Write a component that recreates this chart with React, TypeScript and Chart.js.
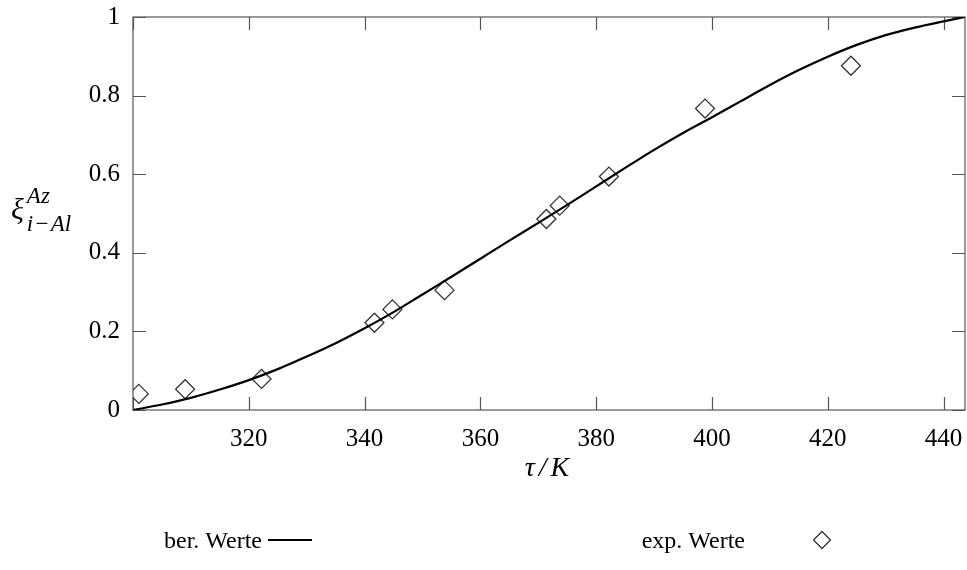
import React, { useEffect, useRef } from "react";
import { Chart, registerables } from "chart.js";

Chart.register(...registerables);

// calculated curve (ber. Werte)
const curveX = [300, 305, 310, 315, 320, 325, 330, 335, 340, 345, 350, 355, 360, 365, 370, 375, 380, 385, 390, 395, 400, 405, 410, 415, 420, 425, 430, 435, 440, 443.7];
const curveY = [0, 0.014, 0.031, 0.052, 0.076, 0.104, 0.136, 0.170, 0.208, 0.249, 0.294, 0.339, 0.385, 0.431, 0.476, 0.522, 0.569, 0.616, 0.662, 0.705, 0.745, 0.786, 0.827, 0.865, 0.899, 0.929, 0.954, 0.973, 0.989, 1.0];

// experimental values (exp. Werte)
const expX = [301.0, 309.0, 322.2, 341.7, 344.8, 353.8, 371.4, 373.7, 382.2, 398.8, 424.0];
const expY = [0.041, 0.053, 0.079, 0.222, 0.256, 0.305, 0.486, 0.52, 0.594, 0.767, 0.876];

const xTickValues = [300, 320, 340, 360, 380, 400, 420, 440];
const xTickLabels = ["", "320", "340", "360", "380", "400", "420", "440"];
const yTickValues = [0, 0.2, 0.4, 0.6, 0.8, 1];
const yTickLabels = ["0", "0.2", "0.4", "0.6", "0.8", "1"];

const X_MIN = 300;
const X_MAX = 443.7;
const Y_MIN = 0;
const Y_MAX = 1;

const legendLabels = ["ber. Werte", "exp. Werte"];
const xTitleParts = ["τ", "/", "K"];
const yTitleMain = "ξ";
const yTitleSup = "Az";
const yTitleSubParts = ["i", "−", "Al"];

const SERIF = '"Liberation Serif", "DejaVu Serif", serif';

const framePlugin = {
  id: "frameTicks",
  beforeDatasetsDraw(chart: any) {
    const { ctx, chartArea } = chart;
    const xs = chart.scales.x;
    const ys = chart.scales.y;
    const { left, right, top, bottom } = chartArea;
    ctx.save();
    ctx.strokeStyle = "#555";
    ctx.lineWidth = 1.2;
    ctx.strokeRect(left, top, right - left, bottom - top);
    const tl = 13;
    ctx.beginPath();
    xTickValues.forEach((v) => {
      const px = Math.round(xs.getPixelForValue(v)) + 0.5;
      ctx.moveTo(px, bottom);
      ctx.lineTo(px, bottom - tl);
      ctx.moveTo(px, top);
      ctx.lineTo(px, top + tl);
    });
    yTickValues.forEach((v) => {
      const py = Math.round(ys.getPixelForValue(v)) + 0.5;
      ctx.moveTo(left, py);
      ctx.lineTo(left + tl, py);
      ctx.moveTo(right, py);
      ctx.lineTo(right - tl, py);
    });
    ctx.stroke();
    // x tick labels
    ctx.fillStyle = "#000";
    ctx.font = `25px ${SERIF}`;
    ctx.textAlign = "center";
    ctx.textBaseline = "alphabetic";
    xTickValues.forEach((v, i) => {
      if (!xTickLabels[i]) return;
      ctx.fillText(xTickLabels[i], xs.getPixelForValue(v), bottom + 36);
    });
    ctx.restore();
  },
  afterDraw(chart: any) {
    const { ctx, chartArea } = chart;
    ctx.save();
    ctx.fillStyle = "#000";
    ctx.textBaseline = "alphabetic";
    ctx.textAlign = "left";
    // x title  (τ / K)
    ctx.font = `italic 28px ${SERIF}`;
    const cxT = (chartArea.left + chartArea.right) / 2 - 2;
    const wT = ctx.measureText(xTitleParts[0]).width;
    const wS = ctx.measureText(xTitleParts[1]).width;
    const wK = ctx.measureText(xTitleParts[2]).width;
    const gap = 4;
    const total = wT + wS + wK + 2 * gap;
    let xx = cxT - total / 2;
    ctx.fillText(xTitleParts[0], xx, 476);
    xx += wT + gap;
    ctx.fillText(xTitleParts[1], xx, 476);
    xx += wS + gap;
    ctx.fillText(xTitleParts[2], xx, 476);
    // y title
    ctx.font = `italic 30px ${SERIF}`;
    const x0 = 11;
    ctx.fillText(yTitleMain, x0, 219);
    const w = ctx.measureText(yTitleMain).width;
    ctx.font = `italic 23px ${SERIF}`;
    const sx = x0 + w + 3;
    ctx.fillText(yTitleSup, sx, 203);
    let sxx = sx;
    yTitleSubParts.forEach((p, i) => {
      ctx.fillText(p, sxx, 231);
      sxx += ctx.measureText(p).width + (i < 2 ? 1 : 0);
    });
    // legend
    ctx.font = `24px ${SERIF}`;
    ctx.textAlign = "right";
    ctx.fillText(legendLabels[0], 262, 548);
    ctx.strokeStyle = "#000";
    ctx.lineWidth = 2;
    ctx.beginPath();
    ctx.moveTo(268, 540);
    ctx.lineTo(312, 540);
    ctx.stroke();
    ctx.fillText(legendLabels[1], 745, 548);
    ctx.strokeStyle = "#333";
    ctx.lineWidth = 1.3;
    const r = 8.5;
    const cx = 822, cy = 540;
    ctx.beginPath();
    ctx.moveTo(cx, cy - r);
    ctx.lineTo(cx + r, cy);
    ctx.lineTo(cx, cy + r);
    ctx.lineTo(cx - r, cy);
    ctx.closePath();
    ctx.stroke();
    ctx.restore();
  },
};

export default function App() {
  const ref = useRef<HTMLCanvasElement | null>(null);
  useEffect(() => {
    if (!ref.current) return;
    const chart = new Chart(ref.current, {
      type: "scatter",
      data: {
        datasets: [
          {
            label: legendLabels[0],
            data: curveX.map((x, i) => ({ x, y: curveY[i] })),
            showLine: true,
            borderColor: "#000",
            borderWidth: 2.2,
            pointRadius: 0,
            cubicInterpolationMode: "monotone",
            fill: false,
          } as any,
          {
            label: legendLabels[1],
            data: expX.map((x, i) => ({ x, y: expY[i] })),
            showLine: false,
            pointStyle: "rectRot",
            pointRadius: 9.5,
            borderColor: "#333",
            borderWidth: 1.3,
            backgroundColor: "rgba(0,0,0,0)",
          } as any,
        ],
      },
      options: {
        responsive: false,
        animation: false,
        layout: { autoPadding: false, padding: { top: 17, right: 2, left: 0, bottom: 0 } },
        plugins: { legend: { display: false }, tooltip: { enabled: false } },
        scales: {
          x: {
            type: "linear",
            min: X_MIN,
            max: X_MAX,
            grid: { display: false, drawTicks: false },
            border: { display: false },
            afterBuildTicks: (axis: any) => {
              axis.ticks = xTickValues.map((v) => ({ value: v }));
            },
            afterFit: (axis: any) => {
              axis.height = 160;
              axis.paddingLeft = 0;
              axis.paddingRight = 0;
              axis.paddingTop = 0;
              axis.paddingBottom = 0;
            },
            ticks: { display: false },
          },
          y: {
            type: "linear",
            min: Y_MIN,
            max: Y_MAX,
            grid: { display: false, drawTicks: false },
            border: { display: false },
            afterBuildTicks: (axis: any) => {
              axis.ticks = yTickValues.map((v) => ({ value: v }));
            },
            afterFit: (axis: any) => {
              axis.width = 133;
              axis.paddingLeft = 0;
              axis.paddingRight = 0;
              axis.paddingTop = 0;
              axis.paddingBottom = 0;
            },
            ticks: {
              autoSkip: false,
              padding: 13,
              color: "#000",
              font: { family: SERIF, size: 25 },
              callback: (v: any) => {
                const i = yTickValues.findIndex((t) => Math.abs(t - Number(v)) < 1e-9);
                return i >= 0 ? yTickLabels[i] : "";
              },
            },
          },
        },
      },
      plugins: [framePlugin],
    });
    return () => chart.destroy();
  }, []);
  return (
    <div style={{ position: "absolute", left: 0, top: 0, width: 967, height: 570, background: "#fff" }}>
      <canvas ref={ref} width={967} height={570} style={{ display: "block" }} />
    </div>
  );
}
